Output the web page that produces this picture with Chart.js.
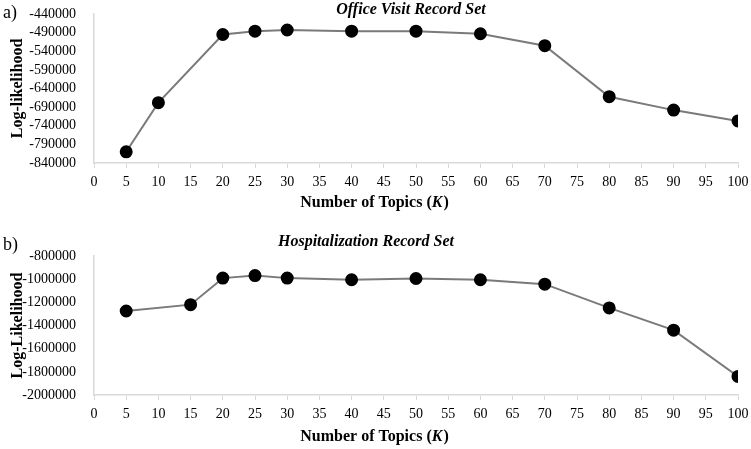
<!DOCTYPE html>
<html>
<head>
<meta charset="utf-8">
<script src="https://cdn.jsdelivr.net/npm/chart.js@4.4.1/dist/chart.umd.min.js"></script>
<style>
  body { margin: 0; background: #fff; }
  .wrap { position: absolute; left: 0; width: 751px; }
</style>
</head>
<body>
<div class="wrap" style="top:0;height:225px"><canvas id="chart-a" width="751" height="225"></canvas></div>
<div class="wrap" style="top:225px;height:224px"><canvas id="chart-b" width="751" height="224"></canvas></div>
<script>
// data
const topicsOffice = [5, 10, 20, 25, 30, 40, 50, 60, 70, 80, 90, 100];
const llOffice = [-810000, -678000, -495000, -486000, -483000, -486000, -486000, -493000, -525000, -662000, -698000, -727000];

const topicsHosp = [5, 15, 20, 25, 30, 40, 50, 60, 70, 80, 90, 100];
const llHosp = [-1275000, -1220000, -991000, -969000, -991000, -1005000, -994000, -1005000, -1043000, -1248000, -1440000, -1840000];

const SERIF = '"Liberation Serif", "Times New Roman", serif';
const AXIS_GRAY = '#d9d9d9';

// draws panel label, title, axis titles (x title has an italic K)
const decorPlugin = {
    id: 'decor',
    afterDraw(chart, args, opts) {
        const ctx = chart.ctx;
        const area = chart.chartArea;
        ctx.save();
        ctx.fillStyle = '#000';
        ctx.textBaseline = 'middle';

        ctx.font = '18px ' + SERIF;
        ctx.textAlign = 'left';
        ctx.fillText(opts.panel, 3, opts.panelY);

        ctx.font = 'italic bold 16px ' + SERIF;
        ctx.textAlign = 'center';
        ctx.fillText(opts.title, opts.titleX, opts.titleY);

        // x title
        const partA = 'Number of Topics (';
        const partK = 'K';
        const partC = ')';
        ctx.font = 'bold 16px ' + SERIF;
        const wA = ctx.measureText(partA).width;
        const wC = ctx.measureText(partC).width;
        ctx.font = 'italic bold 16px ' + SERIF;
        const wK = ctx.measureText(partK).width;
        let x = opts.xTitleX - (wA + wK + wC) / 2;
        ctx.textAlign = 'left';
        ctx.font = 'bold 16px ' + SERIF;
        ctx.fillText(partA, x, opts.xTitleY);
        x += wA;
        ctx.font = 'italic bold 16px ' + SERIF;
        ctx.fillText(partK, x, opts.xTitleY);
        x += wK + 1;
        ctx.font = 'bold 16px ' + SERIF;
        ctx.fillText(partC, x, opts.xTitleY);

        // y title
        ctx.translate(18, (area.top + area.bottom) / 2);
        ctx.rotate(-Math.PI / 2);
        ctx.textAlign = 'center';
        ctx.font = 'bold 16px ' + SERIF;
        ctx.fillText(opts.yTitle, 0, 0);
        ctx.restore();
    }
};

function makePanel(canvasId, xs, ys, yMin, yMax, yStep, pad, xAxisH, decor) {
    const ctx = document.getElementById(canvasId).getContext('2d');
    return new Chart(ctx, {
        type: 'line',
        data: {
            datasets: [{
                data: xs.map((v, i) => ({ x: v, y: ys[i] })),
                borderColor: '#7a7a7a',
                borderWidth: 2,
                pointBackgroundColor: '#000',
                pointBorderColor: '#000',
                pointRadius: 5.5,
                pointHoverRadius: 5.5,
                tension: 0
            }]
        },
        options: {
            responsive: false,
            animation: false,
            layout: { padding: pad },
            plugins: {
                legend: { display: false },
                tooltip: { enabled: false },
                decor: decor
            },
            scales: {
                x: {
                    type: 'linear',
                    min: 0,
                    max: 100,
                    ticks: {
                        stepSize: 5, autoSkip: false, maxRotation: 0, padding: 6,
                        color: '#000', font: { family: SERIF, size: 14 },
                        callback: v => String(v)
                    },
                    grid: { drawOnChartArea: false, color: AXIS_GRAY, tickLength: 5 },
                    border: { color: AXIS_GRAY, width: 1.5 },
                    afterFit: s => { s.height = xAxisH; s.paddingLeft = 0; s.paddingRight = 0; }
                },
                y: {
                    min: yMin,
                    max: yMax,
                    ticks: {
                        stepSize: yStep, autoSkip: false, padding: 10,
                        color: '#000', font: { family: SERIF, size: 14 },
                        callback: v => String(v)
                    },
                    grid: { display: false },
                    border: { color: AXIS_GRAY, width: 1.5 },
                    afterFit: s => { s.width = 94; s.paddingTop = 0; s.paddingBottom = 0; }
                }
            }
        },
        plugins: [decorPlugin]
    });
}

makePanel('chart-a', topicsOffice, llOffice, -840000, -440000, 50000,
    { left: 0, right: 13, top: 14, bottom: 0 }, 62,
    { panel: 'a)', panelY: 13, title: 'Office Visit Record Set', titleX: 411, titleY: 10,
      yTitle: 'Log-likelihood', xTitleX: 374, xTitleY: 203 });

makePanel('chart-b', topicsHosp, llHosp, -2000000, -800000, 200000,
    { left: 0, right: 13, top: 31, bottom: 0 }, 54,
    { panel: 'b)', panelY: 20, title: 'Hospitalization Record Set', titleX: 366, titleY: 17,
      yTitle: 'Log-Likelihood', xTitleX: 374, xTitleY: 212 });
</script>
</body>
</html>
